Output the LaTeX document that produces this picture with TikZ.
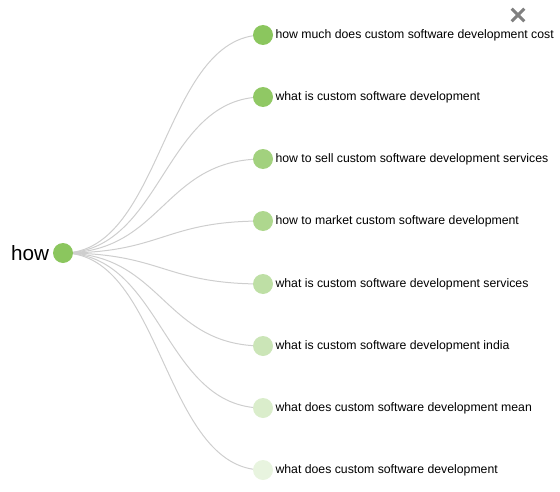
\documentclass[tikz,border=0pt]{standalone}
\usepackage{fontspec}
\setmainfont{Liberation Sans}
\usetikzlibrary{positioning,backgrounds}

\definecolor{hubgreen}{RGB}{139,198,94}
\definecolor{linkgray}{RGB}{206,206,206}
\definecolor{closegray}{RGB}{128,128,128}

\begin{document}
\begin{tikzpicture}[
  x=0.75pt, y=-0.75pt,
  root/.style  = {circle, fill=hubgreen, inner sep=0pt, minimum size=15pt},
  leaf/.style  = {circle, inner sep=0pt, minimum size=15pt},
  term/.style  = {font=\fontsize{9.2pt}{11pt}\selectfont, inner sep=0pt,
                  anchor=west},
  word/.style  = {font=\fontsize{15.5pt}{18pt}\selectfont, inner sep=0pt,
                  anchor=east},
  link/.style  = {draw=linkgray, line width=0.75pt},
  closemark/.style = {draw=closegray, line width=2.2pt},
]
  \useasboundingbox (0,0) rectangle (560,492);

  \node[root] (how) at (63,253) {};
  \node[word, left=2.5pt of how] (howtext) {how};

  \node[leaf, fill=hubgreen] (l1) at (263,35) {};
  \node[leaf, fill=hubgreen!96!white] (l2) at (263,97) {};
  \node[leaf, fill=hubgreen!80!white] (l3) at (263,159) {};
  \node[leaf, fill=hubgreen!70!white] (l4) at (263,221) {};
  \node[leaf, fill=hubgreen!56!white] (l5) at (263,284) {};
  \node[leaf, fill=hubgreen!45!white] (l6) at (263,346) {};
  \node[leaf, fill=hubgreen!32!white] (l7) at (263,408) {};
  \node[leaf, fill=hubgreen!20!white] (l8) at (263,470) {};

  \node[term, right=1.5pt of l1] (t1) {how much does custom software development cost};
  \node[term, right=1.5pt of l2] (t2) {what is custom software development};
  \node[term, right=1.5pt of l3] (t3) {how to sell custom software development services};
  \node[term, right=1.5pt of l4] (t4) {how to market custom software development};
  \node[term, right=1.5pt of l5] (t5) {what is custom software development services};
  \node[term, right=1.5pt of l6] (t6) {what is custom software development india};
  \node[term, right=1.5pt of l7] (t7) {what does custom software development mean};
  \node[term, right=1.5pt of l8] (t8) {what does custom software development};

  % links run under the dots
  \begin{pgfonlayer}{background}
    \draw[link] (how.center) .. controls +(100,0) and +(-100,0) .. (l1.center);
    \draw[link] (how.center) .. controls +(100,0) and +(-100,0) .. (l2.center);
    \draw[link] (how.center) .. controls +(100,0) and +(-100,0) .. (l3.center);
    \draw[link] (how.center) .. controls +(100,0) and +(-100,0) .. (l4.center);
    \draw[link] (how.center) .. controls +(100,0) and +(-100,0) .. (l5.center);
    \draw[link] (how.center) .. controls +(100,0) and +(-100,0) .. (l6.center);
    \draw[link] (how.center) .. controls +(100,0) and +(-100,0) .. (l7.center);
    \draw[link] (how.center) .. controls +(100,0) and +(-100,0) .. (l8.center);
  \end{pgfonlayer}

  % close button
  \node[inner sep=0pt, minimum size=9pt] (close) at (518,15) {};
  \draw[closemark] (close.north west) -- (close.south east);
  \draw[closemark] (close.north east) -- (close.south west);
\end{tikzpicture}
\end{document}
